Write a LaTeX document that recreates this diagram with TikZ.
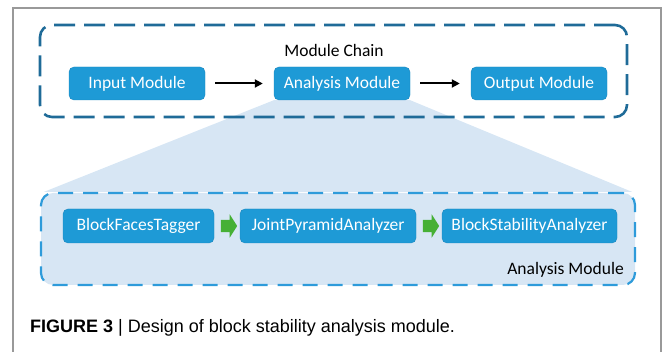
\documentclass[tikz,border=0pt]{standalone}
\usepackage{fontspec}
\setmainfont{Carlito}
\newfontfamily\capfont{Liberation Sans}
\usepackage{tikz}
\usepackage{xcolor}
\usetikzlibrary{shapes}
\usetikzlibrary{positioning}
\usetikzlibrary{arrows.meta,calc}
\pgfdeclarelayer{background}
\pgfsetlayers{background,main}
\definecolor{modblue}{HTML}{1E9AD6}
\definecolor{modedge}{HTML}{1A86BE}
\definecolor{chainblue}{HTML}{1F6B98}
\definecolor{framelight}{HTML}{2E9BDA}
\definecolor{zoomfill}{HTML}{D7E6F4}
\definecolor{stepgreen}{HTML}{46B035}

\begin{document}
\begin{tikzpicture}[x=1pt,y=-1pt]
        \tikzstyle{module}=[rectangle,rounded corners=5pt,draw=modedge,fill=modblue,text=white,inner sep=0pt,minimum width=136pt,minimum height=33pt,font=\fontsize{17.5}{20}\selectfont]
        \tikzstyle{stage}=[module,minimum height=34pt]
        \tikzstyle{chainframe}=[rectangle,rounded corners=12pt,draw=chainblue,line width=2.6pt,dash pattern=on 21pt off 9pt,inner sep=0pt]
        \tikzstyle{detailframe}=[rectangle,rounded corners=12pt,draw=framelight,fill=zoomfill,line width=2.2pt,dash pattern=on 15pt off 10pt,inner sep=0pt]
        \tikzstyle{label}=[inner sep=0pt,font=\fontsize{17.5}{20}\selectfont]
        \tikzstyle{edge}=[draw,line width=2pt,-{Triangle[length=8pt,width=8pt]},shorten <=10pt,shorten >=11pt]
        \tikzstyle{stepper}=[single arrow,fill=stepgreen,inner sep=6pt,minimum height=13pt,single arrow head extend=5.5pt,single arrow tip angle=115]
        \useasboundingbox (0,0) rectangle (663,352);
        \draw[line width=1.3pt,black!40] (13,352) -- (13,8) -- (661,8) -- (661,352);
       \begin{scope}
         \node [chainframe,minimum width=587pt,minimum height=92pt] (chain) at (333.5,71) {};
         \node [label] (chaintitle) at (334,50) {Module Chain};
         \node [module] (input) at (137,83.5) {Input Module};
         \node [module] (analysis) at (342,83.5) {Analysis Module};
         \node [module] (output) at (539,83.5) {Output Module};
         \path[edge] (input) edge (analysis);
         \path[edge] (analysis) edge (output);
        \end{scope}
       \begin{scope}
         \node [detailframe,minimum width=594pt,minimum height=92pt] (detail) at (338,239) {};
         \node [stage,minimum width=151pt] (tagger) at (138.5,226) {BlockFacesTagger};
         \node [stage,minimum width=176pt] (pyramid) at (328,226) {JointPyramidAnalyzer};
         \node [stage,minimum width=175pt] (stability) at (529.5,226) {BlockStabilityAnalyzer};
         \node [stepper] (g1) at ($(tagger.east)!0.5!(pyramid.west)$) {};
         \node [stepper] (g2) at ($(pyramid.east)!0.5!(stability.west)$) {};
         \node [label,anchor=east] (detailtitle) at (624,270) {Analysis Module};
        \end{scope}
        \begin{pgfonlayer}{background}
         \fill[zoomfill] (analysis.south west) -- (analysis.south east) -- ($(detail.north east)+(-4,0)$) -- ($(detail.north west)+(4,0)$) -- cycle;
        \end{pgfonlayer}
        \node [anchor=west,inner sep=0pt,font=\capfont\fontsize{18}{21}\selectfont] (caption) at (30,328) {\textbf{FIGURE 3} | Design of block stability analysis module.};
      \end{tikzpicture}
\end{document}
